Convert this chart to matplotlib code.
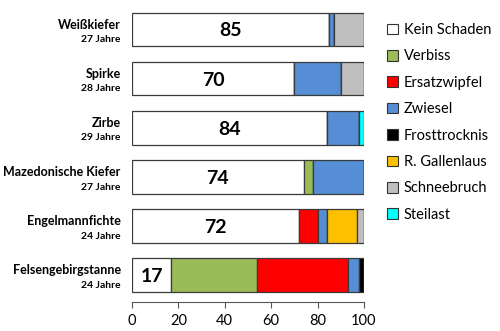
import numpy as np
import matplotlib
matplotlib.use("Agg")
import matplotlib.pyplot as plt
from matplotlib.patches import Patch

plt.rcParams['font.family'] = ['Lato', 'DejaVu Sans']

species = ["Weißkiefer", "Spirke", "Zirbe", "Mazedonische Kiefer",
           "Engelmannfichte", "Felsengebirgstanne"]
ages = ["27 Jahre", "28 Jahre", "29 Jahre", "27 Jahre", "24 Jahre", "24 Jahre"]

categories = ["Kein Schaden", "Verbiss", "Ersatzwipfel", "Zwiesel",
              "Frosttrocknis", "R. Gallenlaus", "Schneebruch", "Steilast"]
colors = ["#FFFFFF", "#9BBB59", "#FF0000", "#558ED5",
          "#000000", "#FFC000", "#BFBFBF", "#00FFFF"]

kein_schaden  = [85, 70, 84, 74, 72, 17]
verbiss       = [0, 0, 0, 4, 0, 37]
ersatzwipfel  = [0, 0, 0, 0, 8, 39]
zwiesel       = [2, 20, 14, 22, 4, 5]
frosttrocknis = [0, 0, 0, 0, 0, 2]
gallenlaus    = [0, 0, 0, 0, 13, 0]
schneebruch   = [13, 10, 0, 0, 3, 0]
steilast      = [0, 0, 2, 0, 0, 0]

series = [kein_schaden, verbiss, ersatzwipfel, zwiesel,
          frosttrocknis, gallenlaus, schneebruch, steilast]

fig = plt.figure(figsize=(5, 3.31), dpi=100)
ax = fig.add_axes([0.264, 0.088, 0.464, 0.912])

y = np.arange(len(species))
left = np.zeros(len(species))
for vals, col in zip(series, colors):
    vals = np.array(vals, dtype=float)
    ax.barh(y, vals, left=left, height=0.69, color=col,
            edgecolor="#3a3a3a", linewidth=0.9)
    left += vals

for i, v in enumerate(kein_schaden):
    ax.text(v / 2, i + 0.03, str(v), ha="center", va="center",
            fontsize=14, fontweight="bold")

ax.set_xlim(0, 100)
ax.set_ylim(len(species) - 0.45, -0.6)
ax.set_xticks([0, 20, 40, 60, 80, 100])
ax.set_yticks([])
for s in ["top", "right", "left"]:
    ax.spines[s].set_visible(False)
ax.spines["bottom"].set_color("#555555")
ax.tick_params(axis="x", length=4, color="#555555", labelsize=10.5, pad=5)

for i, (name, age) in enumerate(zip(species, ages)):
    ax.text(-4.8, i - 0.1, name, ha="right", va="center",
            fontsize=9, fontweight="bold")
    ax.text(-4.8, i + 0.21, age, ha="right", va="center",
            fontsize=7.5, fontweight="bold")

handles = [Patch(facecolor=c, edgecolor="#333333", linewidth=0.8, label=l)
           for c, l in zip(colors, categories)]
fig.legend(handles=handles, loc="upper left", bbox_to_anchor=(0.748, 0.97),
           frameon=False, fontsize=10.5, handlelength=0.75, handleheight=0.75,
           handletextpad=0.4, labelspacing=0.85)

fig.savefig("out.png", dpi=100)
